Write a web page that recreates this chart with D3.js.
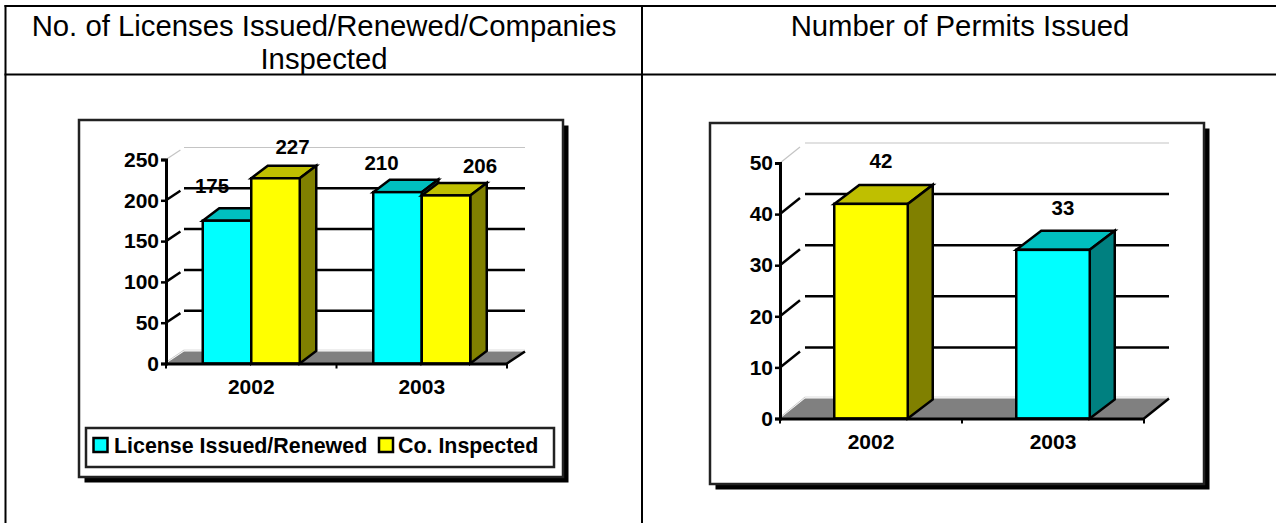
<!DOCTYPE html>
<html><head><meta charset="utf-8">
<script src="https://cdn.jsdelivr.net/npm/d3@7/dist/d3.min.js"></script>
<style>html,body{margin:0;padding:0;background:#fff}svg{display:block}text{font-family:"Liberation Sans",Arial,sans-serif}</style>
</head><body><div id="c"></div>
<script>
const years = ["2002", "2003"];
const leftSeriesNames = ["License Issued/Renewed", "Co. Inspected"];
const licenseValues = [175, 210];
const inspectedValues = [227, 206];
const leftTicks = [0, 50, 100, 150, 200, 250];
const permitValues = [42, 33];
const rightTicks = [0, 10, 20, 30, 40, 50];
const titles = ["No. of Licenses Issued/Renewed/Companies", "Inspected", "Number of Permits Issued"];

const CYAN = {front:"#00ffff", top:"#00bfbf", side:"#008080"};
const YELL = {front:"#ffff00", top:"#bfbf00", side:"#808000"};

const svg = d3.select("#c").append("svg").attr("width",1276).attr("height",523);

// table
const tbl = svg.append("g").attr("stroke","#000").attr("stroke-width",2);
[[5.5,5,5.5,523],[642,5,642,523],[4.5,6,1276,6],[4.5,74.5,1276,74.5]].forEach(l=>
  tbl.append("line").attr("x1",l[0]).attr("y1",l[1]).attr("x2",l[2]).attr("y2",l[3]));
const tt = svg.append("g").attr("font-size",29.3).attr("text-anchor","middle").attr("fill","#000");
tt.append("text").attr("x",324).attr("y",36).text(titles[0]);
tt.append("text").attr("x",324).attr("y",69).text(titles[1]);
tt.append("text").attr("x",960).attr("y",36).text(titles[2]);

function chart(o){
  const g = svg.append("g");
  // frame + shadow
  g.append("rect").attr("x",o.frame[0]+o.sh).attr("y",o.frame[1]+o.sh).attr("width",o.frame[2]-o.frame[0]).attr("height",o.frame[3]-o.frame[1]).attr("fill","#000");
  g.append("rect").attr("x",o.frame[0]).attr("y",o.frame[1]).attr("width",o.frame[2]-o.frame[0]).attr("height",o.frame[3]-o.frame[1]).attr("fill","#fff").attr("stroke","#222").attr("stroke-width",2.5);

  const x = d3.scaleBand().domain(years).range([o.x0,o.x1]);
  const y = d3.scaleLinear().domain([0,d3.max(o.ticks)]).range([o.y0,o.yTop]);
  const [dx,dy] = o.depth;
  // floor
  g.append("path").attr("d",`M${o.x0},${o.y0}L${o.x0+dx},${o.y0-dy}L${o.x1+dx},${o.y0-dy}L${o.x1},${o.y0}Z`).attr("fill","#808080");
  g.append("line").attr("x1",o.x0+dx).attr("x2",o.x1+dx).attr("y1",o.y0-dy-1.5).attr("y2",o.y0-dy-1.5).attr("stroke","#ddd").attr("stroke-width",1);
  g.append("line").attr("x1",o.x0+1).attr("y1",o.y0-2).attr("x2",o.x0+dx).attr("y2",o.y0-dy-1.5).attr("stroke","#ccc").attr("stroke-width",1);
  g.append("line").attr("x1",o.x1).attr("y1",o.y0).attr("x2",o.x1+dx).attr("y2",o.y0-dy).attr("stroke","#000").attr("stroke-width",2.5);
  // gridlines
  o.ticks.filter(t=>t>0).forEach(t=>{
    const top = t===d3.max(o.ticks);
    const c = top?"#c4c4c4":"#000", w = top?1.2:2.5;
    g.append("line").attr("x1",o.x0).attr("y1",y(t)).attr("x2",o.x0+dx*0.8).attr("y2",y(t)-dy*0.8).attr("stroke",c).attr("stroke-width",w);
    g.append("line").attr("x1",o.x0+dx).attr("y1",y(t)-dy).attr("x2",o.x1+dx).attr("y2",y(t)-dy).attr("stroke",c).attr("stroke-width",w);
  });
  // bars
  o.series.forEach((s,si)=>{
    s.values.forEach((v,i)=>{
      const col = s.colors ? s.colors[i] : s.color;
      const inner = d3.scaleBand().domain(o.series.map((_,k)=>k)).range([x(years[i])+x.bandwidth()/2-o.barW/2, x(years[i])+x.bandwidth()/2+o.barW/2]);
      const bx = inner(si), bw = inner.bandwidth(), t = y(v), [bdx,bdy] = o.barDepth;
      const b = g.append("g").attr("stroke","#000").attr("stroke-width",2.5).attr("stroke-linejoin","miter");
      b.append("path").attr("d",`M${bx},${t}L${bx+bdx},${t-bdy}L${bx+bw+bdx},${t-bdy}L${bx+bw},${t}Z`).attr("fill",col.top);
      b.append("path").attr("d",`M${bx+bw},${t}L${bx+bw+bdx},${t-bdy}L${bx+bw+bdx},${o.y0-bdy}L${bx+bw},${o.y0}Z`).attr("fill",col.side);
      b.append("rect").attr("x",bx).attr("y",t).attr("width",bw).attr("height",o.y0-t).attr("fill",col.front);
      const off = o.labelOff[si][i];
      g.append("text").attr("x",bx+bw/2+off[0]).attr("y",t+off[1]).attr("text-anchor","middle").attr("font-size",20.5).attr("font-weight","bold").text(v);
    });
  });
  // axes
  const ax = g.append("g").attr("transform",`translate(${o.x0},0)`).call(d3.axisLeft(y).tickValues(o.ticks).tickSize(5).tickPadding(2).tickFormat(d3.format("d")));
  const bx = g.append("g").attr("transform",`translate(0,${o.y0})`).call(d3.axisBottom(x).tickSize(0).tickPadding(o.catPad));
  [ax,bx].forEach((a,i)=>{a.selectAll("path").attr("stroke","#000").attr("stroke-width",3);
    a.selectAll("line").attr("stroke","#000").attr("stroke-width",2.5);
    a.selectAll("text").attr("font-size",21).attr("font-weight","bold").attr("font-family",'"Liberation Sans",Arial,sans-serif').attr("fill","#000");});
  const tk = [o.x0, x(years[1]), o.x1];
  g.selectAll(null).data(tk).enter().append("line").attr("x1",d=>d).attr("x2",d=>d).attr("y1",o.y0).attr("y2",o.y0+5).attr("stroke","#000").attr("stroke-width",2);
  return g;
}

const gL = chart({frame:[79,120,563,477],sh:5.5,x0:166,x1:507,y0:363.5,yTop:159.5,depth:[18,12],barDepth:[16.5,12.5],barW:97,catPad:16,ticks:leftTicks,
  series:[{color:CYAN,values:licenseValues},{color:YELL,values:inspectedValues}],
  labelOff:[[[-15,-28],[-16,-22]],[[17,-24],[34,-22]]]});
// legend
gL.append("rect").attr("x",86).attr("y",428).attr("width",468).attr("height",39).attr("fill","#fff").attr("stroke","#222").attr("stroke-width",2.5);
[[93.5,CYAN,114],[379,YELL,398]].forEach((l,i)=>{
  gL.append("rect").attr("x",l[0]).attr("y",438).attr("width",14).attr("height",14).attr("fill",l[1].front).attr("stroke","#000").attr("stroke-width",2.5);
  gL.append("text").attr("x",l[2]).attr("y",453).attr("font-size",21.4).attr("font-weight","bold").text(leftSeriesNames[i]);
});
chart({frame:[710,123,1204,484],sh:5.5,x0:780,x1:1144,y0:418.5,yTop:163,depth:[25,20],barDepth:[25,19],barW:73.5,catPad:16,ticks:rightTicks,
  series:[{colors:[YELL,CYAN],values:permitValues}],
  labelOff:[[[10,-36],[10,-35]]]});
</script></body></html>
